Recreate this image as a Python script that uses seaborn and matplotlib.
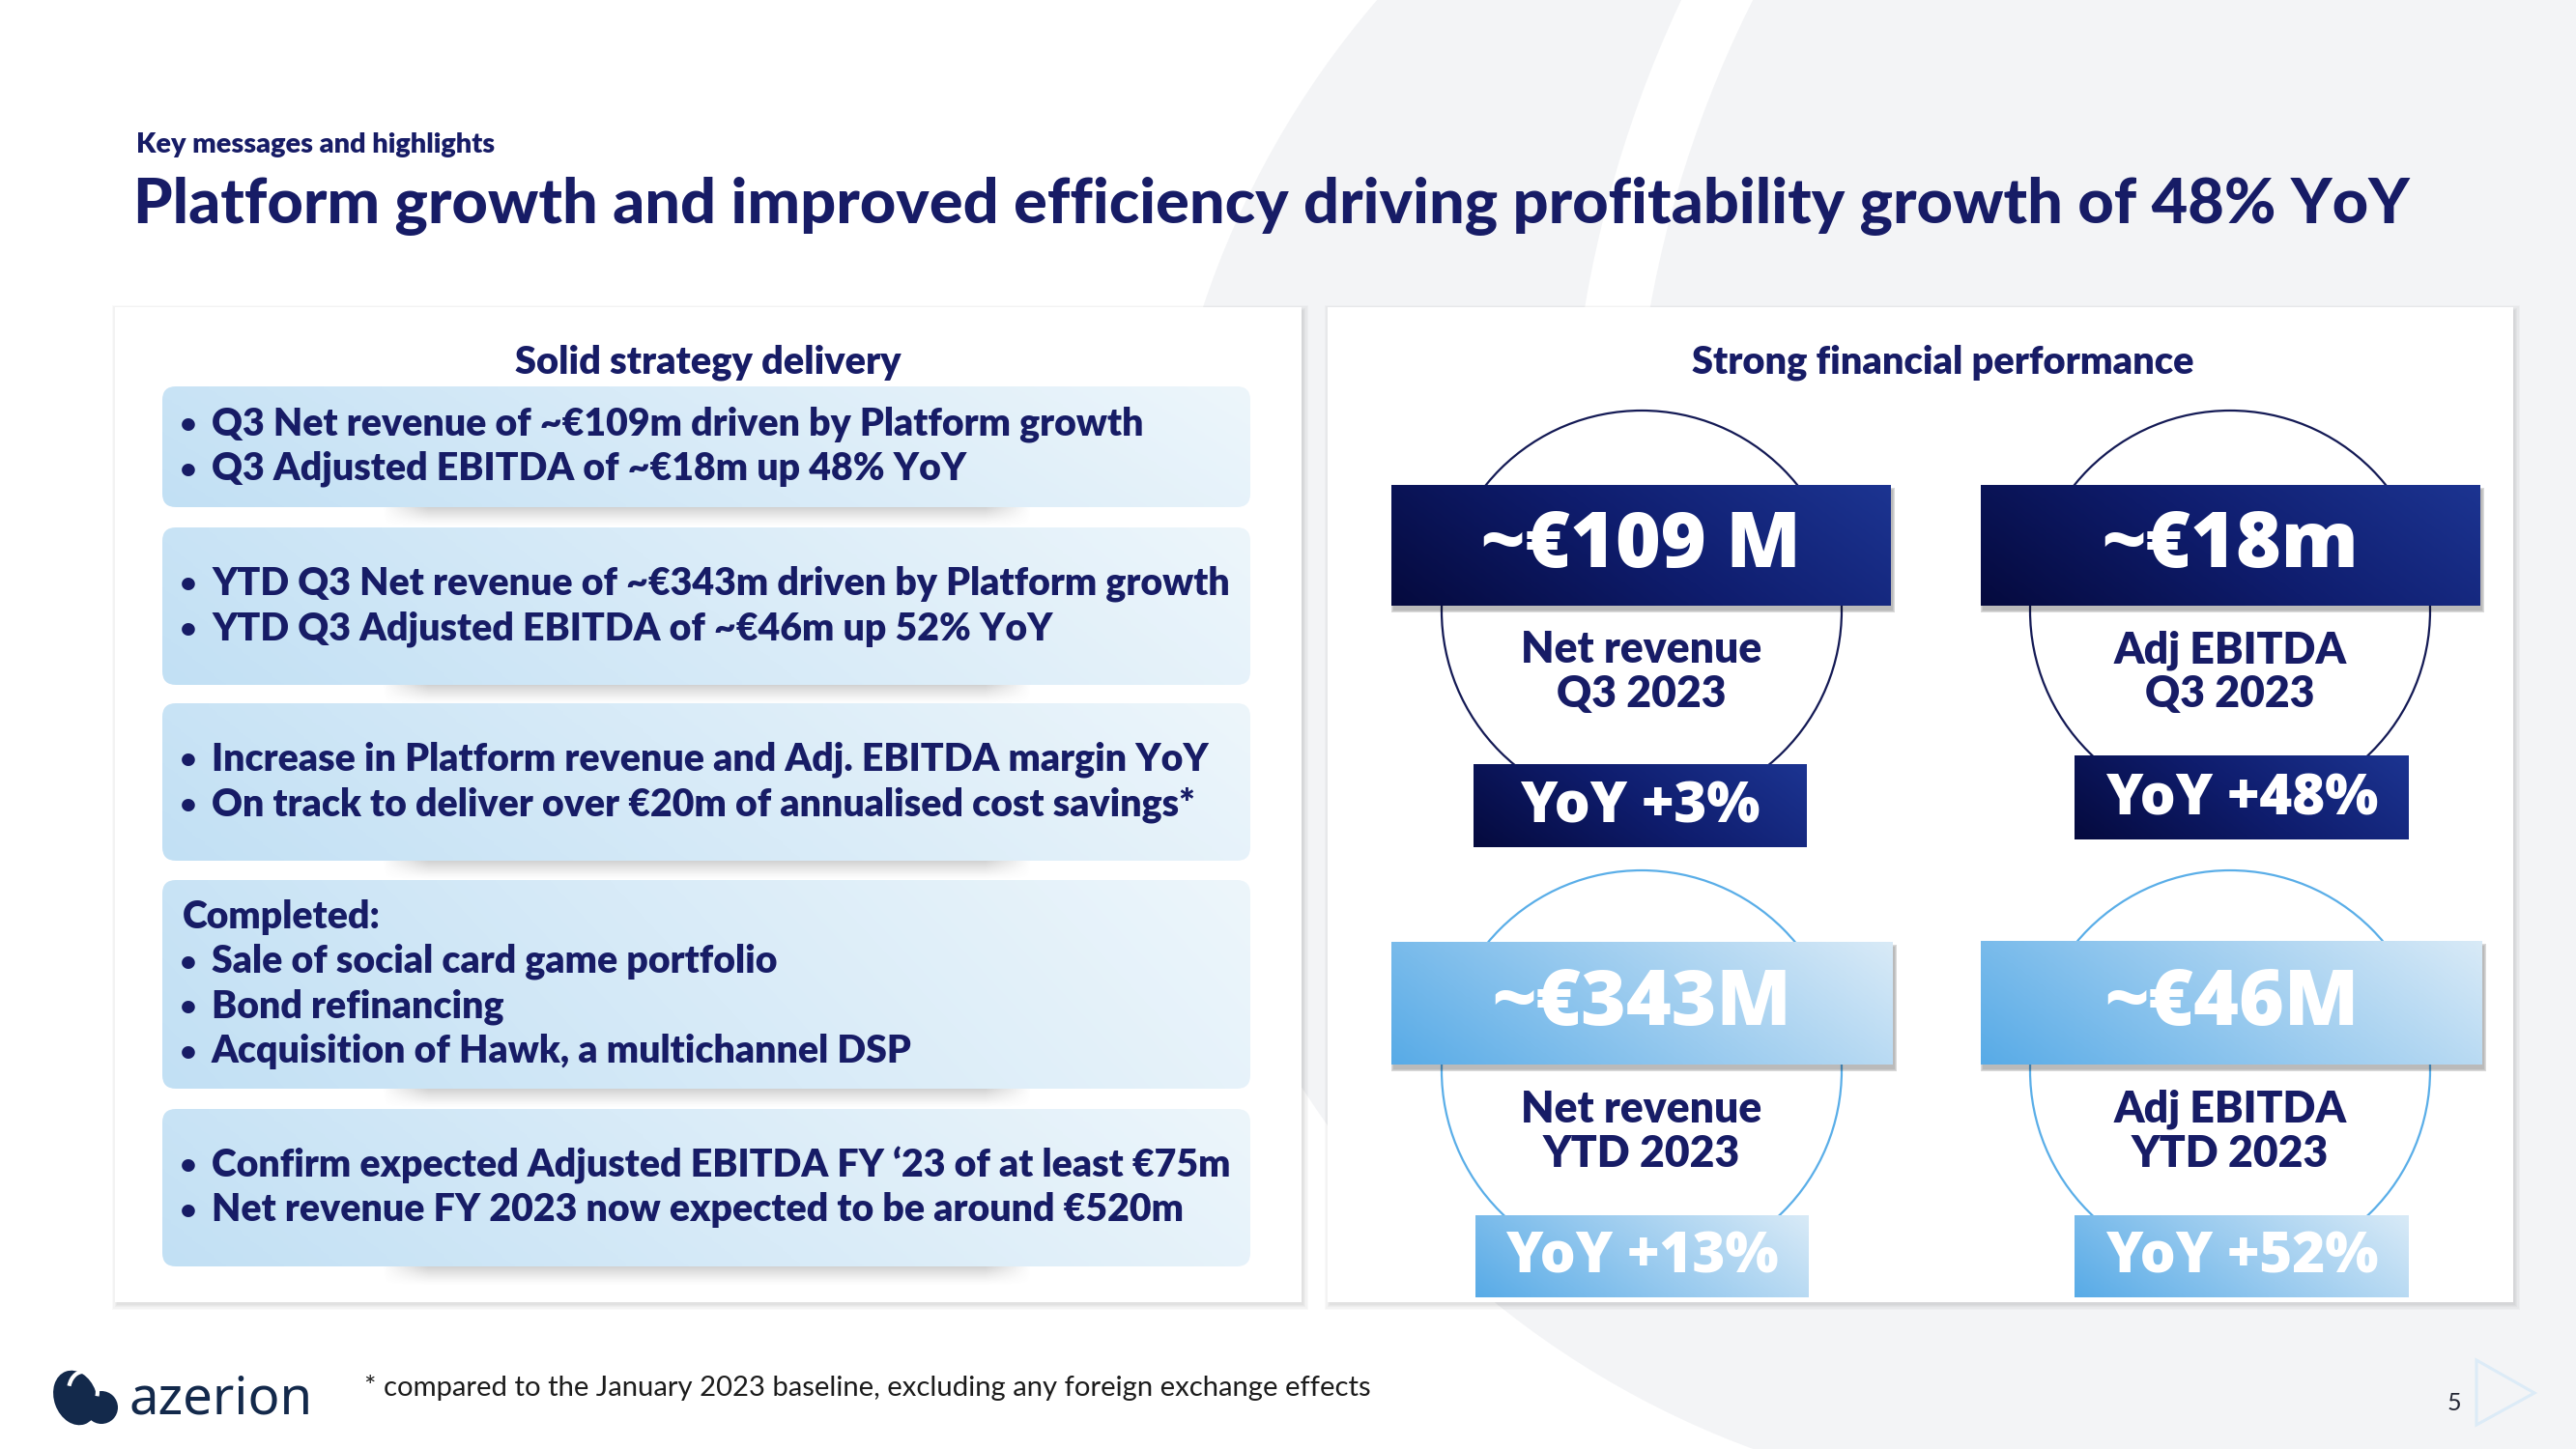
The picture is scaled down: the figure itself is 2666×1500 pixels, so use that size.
import numpy as np
import seaborn as sns
import matplotlib
matplotlib.use("Agg")
import matplotlib.pyplot as plt
from matplotlib.patches import FancyBboxPatch, Circle, Arc, Polygon, Ellipse, Rectangle

# ---------------------------------------------------------------
# Slide content
# ---------------------------------------------------------------
kicker = "Key messages and highlights"
title = "Platform growth and improved efficiency driving profitability growth of 48% YoY"
left_heading = "Solid strategy delivery"
right_heading = "Strong financial performance"

bullet_headers = [None, None, None, "Completed:", None]
bullet_groups = [
    ["Q3 Net revenue of ~€109m driven by Platform growth",
     "Q3 Adjusted EBITDA of ~€18m up 48% YoY"],
    ["YTD Q3 Net revenue of ~€343m driven by Platform growth",
     "YTD Q3 Adjusted EBITDA of ~€46m up 52% YoY"],
    ["Increase in Platform revenue and Adj. EBITDA margin YoY",
     "On track to deliver over €20m of annualised cost savings*"],
    ["Sale of social card game portfolio",
     "Bond refinancing",
     "Acquisition of Hawk, a multichannel DSP"],
    ["Confirm expected Adjusted EBITDA FY \u201823 of at least €75m",
     "Net revenue FY 2023 now expected to be around €520m"],
]

kpi_values = ["~€109 M", "~€18m", "~€343M", "~€46M"]
kpi_metrics = ["Net revenue", "Adj EBITDA", "Net revenue", "Adj EBITDA"]
kpi_periods = ["Q3 2023", "Q3 2023", "YTD 2023", "YTD 2023"]
kpi_yoy = ["YoY +3%", "YoY +48%", "YoY +13%", "YoY +52%"]
kpi_style = ["dark", "dark", "light", "light"]

footnote = "* compared to the January 2023 baseline, excluding any foreign exchange effects"
page_number = "5"
brand = "azerion"

# ---------------------------------------------------------------
# Layout (pixels of the 2666 x 1500 canvas)
# ---------------------------------------------------------------
W, H = 2666, 1500
NAVY = "#171c66"
LOGO = "#13294b"
BG_GREY = "#f3f4f6"
NUM_FONT = ["Open Sans", "DejaVu Sans"]

left_boxes = [(400, 525), (546, 709), (728, 891), (911, 1127), (1148, 1311)]
BOX_X0, BOX_X1 = 168, 1294
LINE_STEP = 46.5

tiles = [
    dict(cx=1699, val=(1440, 1957, 502, 627), circ_top=425, lab=(673, 719), yoy=(1525, 1870, 791, 877)),
    dict(cx=2308, val=(2050, 2567, 502, 627), circ_top=425, lab=(673, 719), yoy=(2147, 2493, 782, 869)),
    dict(cx=1699, val=(1440, 1959, 975, 1102), circ_top=901, lab=(1148, 1195), yoy=(1527, 1872, 1258, 1343)),
    dict(cx=2308, val=(2050, 2569, 974, 1102), circ_top=901, lab=(1148, 1195), yoy=(2147, 2493, 1258, 1343)),
]
CIRC_R = 207

sns.set_theme(style="white")
plt.rcParams["font.family"] = ["Lato", "DejaVu Sans"]

cmaps = {
    "dark": sns.blend_palette(["#050a3e", "#0f1d6e", "#1c3491"], as_cmap=True),
    "light": sns.blend_palette(["#58abe7", "#9acbef", "#d8eaf7"], as_cmap=True),
    "soft": sns.blend_palette(["#c2e0f4", "#d8ebf8", "#edf6fb"], as_cmap=True),
}
circle_colors = {"dark": "#141a55", "light": "#5aaee8"}

fig = plt.figure(figsize=(W / 100, H / 100), dpi=100, facecolor="white")
ax = fig.add_axes([0, 0, 1, 1])
ax.set_xlim(0, W)
ax.set_ylim(H, 0)
ax.axis("off")
renderer = fig.canvas.get_renderer()


def fit(text, width, **kw):
    t = ax.text(0, 0, text, fontsize=20, **kw)
    w = t.get_window_extent(renderer=renderer).width
    t.remove()
    return 20 * width / w


def gradient_box(x0, x1, y0, y1, cmap, rounding=0, z=3, diag=0.25):
    style = f"round,pad=0,rounding_size={rounding}" if rounding else "square,pad=0"
    patch = FancyBboxPatch((x0, y0), x1 - x0, y1 - y0, boxstyle=style,
                           fc="none", ec="none", zorder=z)
    ax.add_patch(patch)
    gx = np.linspace(0, 1, 256)[None, :]
    gy = np.linspace(0, 1, 64)[:, None]
    g = (1 - diag) * gx + diag * (1 - gy)
    im = ax.imshow(g, cmap=cmap, extent=(x0, x1, y1, y0), aspect="auto",
                   zorder=z, interpolation="bilinear", vmin=0, vmax=1)
    im.set_clip_path(patch)


def soft_shadow(x0, x1, y0, y1, dx, dy, z, alpha=0.22, layers=6, spread=1.6):
    for i in range(layers):
        p = i * spread
        ax.add_patch(Rectangle((x0 + dx - p, y0 + dy - p), x1 - x0 + 2 * p, y1 - y0 + 2 * p,
                               fc="black", ec="none", alpha=alpha / layers, zorder=z))


def strip_shadow(x0, x1, y0, h, z):
    xs = np.linspace(0, 1, 300)
    ys = np.linspace(0, 1, 30)
    fx = np.clip(np.minimum(xs, 1 - xs) / 0.07, 0, 1)
    fy = (1 - ys) ** 1.3
    rgba = np.zeros((30, 300, 4))
    rgba[..., :3] = 0.45
    rgba[..., 3] = 0.32 * fy[:, None] * fx[None, :]
    ax.imshow(rgba, extent=(x0, x1, y0 + h, y0), aspect="auto", zorder=z,
              interpolation="bilinear")


# ---------------------------------------------------------------
# Background shapes
# ---------------------------------------------------------------
ax.add_patch(Circle((2140, 615), 943, fc=BG_GREY, ec="none", zorder=0))
ax.add_patch(Rectangle((2140, 0), W - 2140, H, fc=BG_GREY, ec="none", zorder=0))
ax.add_patch(Arc((2856, 525), 2400, 2400, theta1=175, theta2=215,
                 color="white", lw=48, zorder=0.5))
ax.add_patch(Polygon([(2563, 1408), (2623, 1442), (2563, 1475)], closed=True,
                     fc="none", ec="#dcebf7", lw=2.2, zorder=1))

# ---------------------------------------------------------------
# Header
# ---------------------------------------------------------------
fs = fit(kicker, 372, fontweight="heavy")
ax.text(141, 150, kicker, fontsize=fs, fontweight="heavy", color=NAVY, va="center", ha="left")
fs = fit(title, 2360, fontweight="black")
ax.text(138, 213, title, fontsize=fs, fontweight="black", color=NAVY, va="center", ha="left")

# ---------------------------------------------------------------
# Panels
# ---------------------------------------------------------------
for x0, x1 in [(119, 1347), (1374, 2601)]:
    soft_shadow(x0, x1, 318, 1348, 2, 3, z=1.5, alpha=0.12, layers=5, spread=1.2)
    ax.add_patch(Rectangle((x0, 318), x1 - x0, 1348 - 318, fc="white", ec="none", zorder=2))

fs = fit(left_heading, 400, fontweight="heavy")
ax.text(733, 375, left_heading, fontsize=fs, fontweight="heavy", color=NAVY, ha="center", va="center", zorder=4)
ax.text(2011, 375, right_heading, fontsize=fs, fontweight="heavy", color=NAVY, ha="center", va="center", zorder=4)

# ---------------------------------------------------------------
# Left column: bullet boxes
# ---------------------------------------------------------------
bullet_fs = fit(bullet_groups[0][0], 964, fontweight="heavy")
for (y0, y1), header, lines in zip(left_boxes, bullet_headers, bullet_groups):
    strip_shadow(395, 1068, y1, 20, z=2.5)
    gradient_box(BOX_X0, BOX_X1, y0, y1, cmaps["soft"], rounding=14, z=3, diag=0.15)
    rows = ([header] if header else []) + lines
    yc = (y0 + y1) / 2
    ys = yc + (np.arange(len(rows)) - (len(rows) - 1) / 2) * LINE_STEP
    for k, (row, y) in enumerate(zip(rows, ys)):
        if header and k == 0:
            ax.text(189, y, row, fontsize=bullet_fs, fontweight="heavy", color=NAVY,
                    ha="left", va="center", zorder=4)
        else:
            ax.text(195, y, "\u2022", fontsize=bullet_fs * 0.7, fontweight="heavy", color=NAVY,
                    ha="center", va="center", zorder=4)
            ax.text(219, y, row, fontsize=bullet_fs, fontweight="heavy", color=NAVY,
                    ha="left", va="center", zorder=4)

# ---------------------------------------------------------------
# Right column: KPI tiles
# ---------------------------------------------------------------
val_fs = fit(kpi_values[0], 331, fontweight="extra bold", family=NUM_FONT)
yoy_fs = fit(kpi_yoy[1], 282, fontweight="extra bold", family=NUM_FONT)
lab_fs = fit(kpi_metrics[0], 250, fontweight="heavy")

for t, val, metric, period, yoy, style in zip(tiles, kpi_values, kpi_metrics, kpi_periods,
                                              kpi_yoy, kpi_style):
    ax.add_patch(Circle((t["cx"], t["circ_top"] + CIRC_R), CIRC_R, fc="white",
                        ec=circle_colors[style], lw=1.6, zorder=3))
    vx0, vx1, vy0, vy1 = t["val"]
    soft_shadow(vx0, vx1, vy0, vy1, 2, 5, z=4, alpha=0.30, layers=4, spread=0.8)
    gradient_box(vx0, vx1, vy0, vy1, cmaps[style], z=5)
    ax.text((vx0 + vx1) / 2, (vy0 + vy1) / 2 + 2, val, fontsize=val_fs, fontweight="extra bold",
            family=NUM_FONT, color="white", ha="center", va="center", zorder=6)
    ax.text(t["cx"], t["lab"][0], metric, fontsize=lab_fs, fontweight="heavy", color=NAVY,
            ha="center", va="center", zorder=6)
    ax.text(t["cx"], t["lab"][1], period, fontsize=lab_fs, fontweight="heavy", color=NAVY,
            ha="center", va="center", zorder=6)
    yx0, yx1, yy0, yy1 = t["yoy"]
    gradient_box(yx0, yx1, yy0, yy1, cmaps[style], z=5)
    ax.text((yx0 + yx1) / 2, (yy0 + yy1) / 2 + 2, yoy, fontsize=yoy_fs, fontweight="extra bold",
            family=NUM_FONT, color="white", ha="center", va="center", zorder=6)

# ---------------------------------------------------------------
# Footer
# ---------------------------------------------------------------
ax.add_patch(Ellipse((78, 1447), 44, 58, angle=-20, fc=LOGO, ec="none", zorder=3))
ax.add_patch(Circle((105, 1457), 17, fc=LOGO, ec="none", zorder=3))
ax.add_patch(Arc((86, 1440), 30, 40, theta1=200, theta2=20, color="white", lw=3, zorder=4))
fs = fit(brand, 190, family=["Noto Sans", "DejaVu Sans"])
ax.text(134, 1449, brand, fontsize=fs, family=["Noto Sans", "DejaVu Sans"], color=LOGO,
        ha="left", va="center", zorder=3)
fs = fit(footnote, 1044)
ax.text(377, 1436, footnote, fontsize=fs, color="#1c1c1c", ha="left", va="center", zorder=3)
ax.text(2540, 1452, page_number, fontsize=18, color="#222533", ha="center", va="center", zorder=3)

ax.set_xlim(0, W)
ax.set_ylim(H, 0)
fig.savefig("out.png", dpi=100, facecolor="white")
